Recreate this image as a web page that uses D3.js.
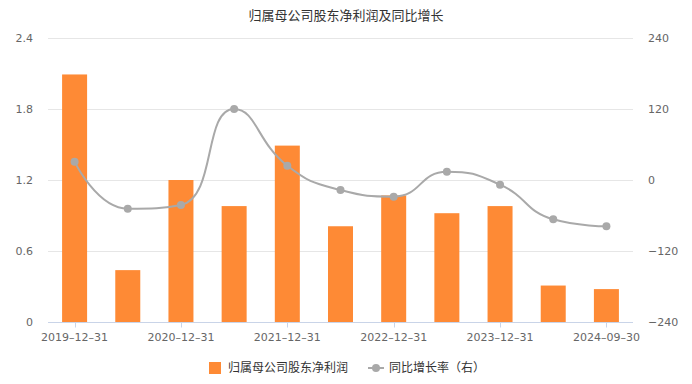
<!DOCTYPE html>
<html><head><meta charset="utf-8">
<script src="https://cdn.jsdelivr.net/npm/d3@7/dist/d3.min.js"></script>
<style>body{margin:0;background:#fff;font-family:"DejaVu Sans","Noto Sans CJK SC",sans-serif;}</style>
</head><body><svg id="c" width="692" height="384"></svg>
<script>
const categories = ["2019-12-31","2020-06-30","2020-12-31","2021-06-30","2021-12-31","2022-06-30","2022-12-31","2023-06-30","2023-12-31","2024-06-30","2024-09-30"];
const profit = [2.09,0.44,1.20,0.98,1.49,0.81,1.07,0.92,0.98,0.31,0.28];
const growth = [30.9,-48.4,-42.2,119.7,24.1,-16.9,-28.1,14.0,-7.9,-66.3,-78.0];
const leftTicks = [0,0.6,1.2,1.8,2.4];
const rightTicks = [-240,-120,0,120,240];
const titleText = "归属母公司股东净利润及同比增长";
const barName = "归属母公司股东净利润";
const lineName = "同比增长率（右）";

const svg = d3.select("#c");
const L = 48, R = 633, T = 37.7, B = 322.3;
const x = d3.scaleBand().domain(categories).range([L, R]).paddingInner(0).paddingOuter(0);
const yL = d3.scaleLinear().domain([0, 2.4]).range([B, T]);
const yR = d3.scaleLinear().domain([-240, 240]).range([B, T]);
const fontLatin = '"DejaVu Sans","Noto Sans CJK SC",sans-serif';

svg.append("text").attr("x", 346).attr("y", 20).attr("text-anchor", "middle")
  .attr("font-size", 13).attr("fill", "#333").text(titleText);

// grid
svg.append("g").selectAll("line").data(leftTicks.slice(1)).join("line")
  .attr("x1", L).attr("x2", R).attr("y1", d => Math.round(yL(d)) + 0.5).attr("y2", d => Math.round(yL(d)) + 0.5)
  .attr("stroke", "#e6e6e6").attr("stroke-width", 1);

// left labels
svg.append("g").selectAll("text").data(leftTicks).join("text")
  .attr("x", 33).attr("y", d => yL(d)).attr("dy", "0.35em").attr("text-anchor", "end")
  .attr("font-size", 11).attr("fill", "#666").attr("font-family", fontLatin).text(d => d);
// right labels
svg.append("g").selectAll("text").data(rightTicks).join("text")
  .attr("x", 648).attr("y", d => yR(d)).attr("dy", "0.35em").attr("text-anchor", "start")
  .attr("font-size", 11).attr("fill", "#666").attr("font-family", fontLatin).text(d => d < 0 ? "\u2212" + (-d) : d);

// bars
const bw = 25;
svg.append("g").selectAll("rect").data(profit).join("rect")
  .attr("x", (d, i) => x(categories[i]) + x.bandwidth() / 2 - bw / 2)
  .attr("width", bw)
  .attr("y", d => yL(d)).attr("height", d => yL(0) - yL(d))
  .attr("fill", "#fe8a35");

// x axis
svg.append("line").attr("x1", L).attr("x2", R).attr("y1", Math.round(B) + 0.5).attr("y2", Math.round(B) + 0.5)
  .attr("stroke", "#c9d4e8").attr("stroke-width", 1);
const shown = categories.filter((c, i) => i % 2 === 0);
svg.append("g").selectAll("line").data(shown).join("line")
  .attr("x1", d => Math.round(x(d) + x.bandwidth() / 2) + 0.5).attr("x2", d => Math.round(x(d) + x.bandwidth() / 2) + 0.5)
  .attr("y1", Math.round(B) + 0.5).attr("y2", Math.round(B) + 5.5).attr("stroke", "#c9d4e8");
svg.append("g").selectAll("text").data(shown).join("text")
  .attr("x", d => x(d) + x.bandwidth() / 2).attr("y", 341).attr("text-anchor", "middle")
  .attr("font-size", 11).attr("fill", "#666").attr("font-family", fontLatin)
  .text(d => d.replace(/-/g, "\u2013"));

// smooth line (ECharts-like smoothing)
const pts = growth.map((g, i) => [x(categories[i]) + x.bandwidth() / 2, yR(g)]);
function smoothPath(points, smooth) {
  const p = d3.path();
  let prevX, prevY, cpx0, cpy0;
  const n = points.length;
  for (let k = 0; k < n; k++) {
    const [xx, yy] = points[k];
    if (k === 0) { p.moveTo(xx, yy); cpx0 = xx; cpy0 = yy; }
    else {
      let cpx1, cpy1, nextCpx0, nextCpy0;
      if (k === n - 1) { cpx1 = xx; cpy1 = yy; }
      else {
        const [nx, ny] = points[k + 1];
        let vx = nx - prevX, vy = ny - prevY;
        const lenPrev = Math.hypot(xx - prevX, yy - prevY);
        const lenNext = Math.hypot(nx - xx, ny - yy);
        const ratio = lenNext / (lenNext + lenPrev);
        nextCpx0 = xx + vx * smooth * ratio;
        nextCpy0 = yy + vy * smooth * ratio;
        nextCpx0 = Math.min(nextCpx0, Math.max(nx, xx)); nextCpx0 = Math.max(nextCpx0, Math.min(nx, xx));
        nextCpy0 = Math.min(nextCpy0, Math.max(ny, yy)); nextCpy0 = Math.max(nextCpy0, Math.min(ny, yy));
        vx = nextCpx0 - xx; vy = nextCpy0 - yy;
        cpx1 = xx - vx * lenPrev / lenNext; cpy1 = yy - vy * lenPrev / lenNext;
        cpx1 = Math.min(cpx1, Math.max(prevX, xx)); cpx1 = Math.max(cpx1, Math.min(prevX, xx));
        cpy1 = Math.min(cpy1, Math.max(prevY, yy)); cpy1 = Math.max(cpy1, Math.min(prevY, yy));
        vx = xx - cpx1; vy = yy - cpy1;
        nextCpx0 = xx + vx * lenNext / lenPrev; nextCpy0 = yy + vy * lenNext / lenPrev;
      }
      p.bezierCurveTo(cpx0, cpy0, cpx1, cpy1, xx, yy);
      cpx0 = nextCpx0; cpy0 = nextCpy0;
    }
    prevX = xx; prevY = yy;
  }
  return p.toString();
}
svg.append("path").attr("d", smoothPath(pts, 0.5)).attr("fill", "none")
  .attr("stroke", "#a9a9a9").attr("stroke-width", 2);
svg.append("g").selectAll("circle").data(pts).join("circle")
  .attr("cx", d => d[0]).attr("cy", d => d[1]).attr("r", 4).attr("fill", "#a9a9a9");

// legend
const lg = svg.append("g");
lg.append("rect").attr("x", 209).attr("y", 362).attr("width", 12).attr("height", 12).attr("fill", "#fe8a35");
lg.append("text").attr("x", 228).attr("y", 368).attr("dy", "0.35em").attr("font-size", 12).attr("fill", "#333")
  .attr("font-family", '"Noto Sans CJK SC",sans-serif').text(barName);
lg.append("line").attr("x1", 368).attr("x2", 384).attr("y1", 368).attr("y2", 368).attr("stroke", "#a9a9a9").attr("stroke-width", 2);
lg.append("circle").attr("cx", 376).attr("cy", 368).attr("r", 4).attr("fill", "#a9a9a9");
lg.append("text").attr("x", 389).attr("y", 368).attr("dy", "0.35em").attr("font-size", 12).attr("fill", "#333")
  .attr("font-family", '"Noto Sans CJK SC",sans-serif').text(lineName);
</script></body></html>
